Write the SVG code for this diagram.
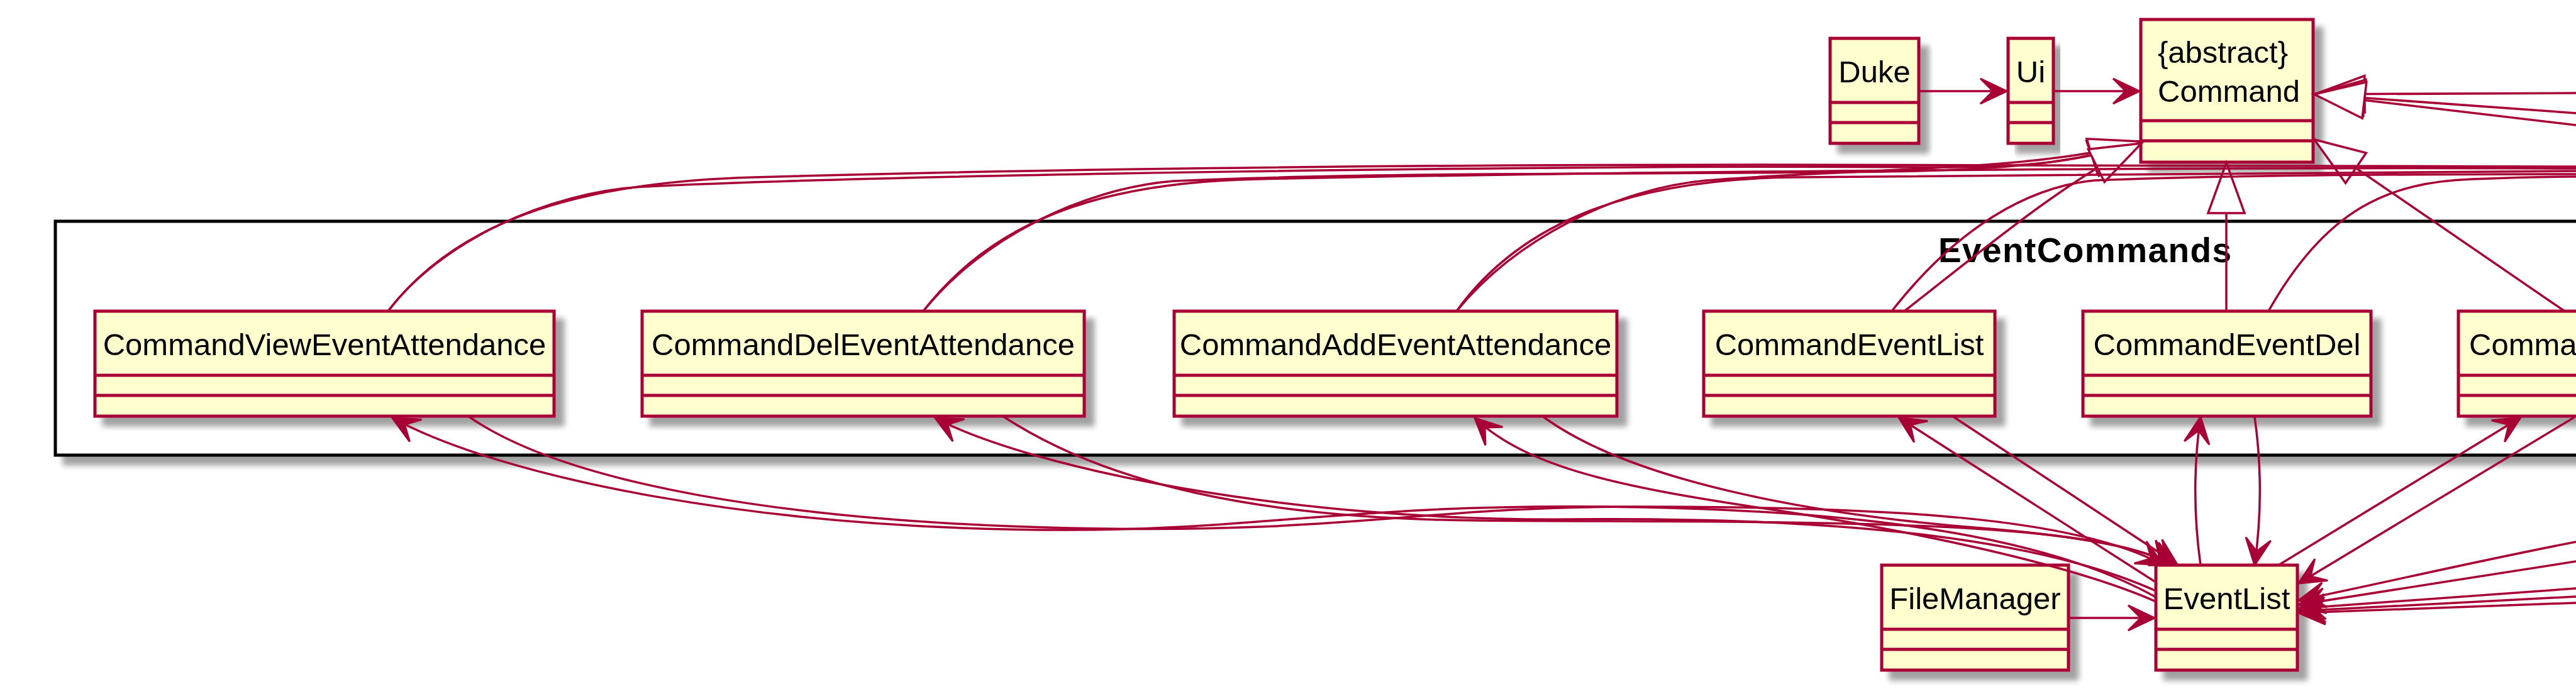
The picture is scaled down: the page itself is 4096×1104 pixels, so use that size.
<svg xmlns="http://www.w3.org/2000/svg" width="4096" height="1104" viewBox="0 0 4096 1104">
<defs>
<filter id="shadow" x="-5%" y="-5%" width="120%" height="135%">
<feGaussianBlur in="SourceAlpha" stdDeviation="5"/>
<feOffset dx="14" dy="14"/>
<feComponentTransfer><feFuncA type="linear" slope="0.37"/></feComponentTransfer>
<feMerge><feMergeNode/><feMergeNode in="SourceGraphic"/></feMerge>
</filter>
<marker id="ah" markerUnits="userSpaceOnUse" markerWidth="60" markerHeight="60" viewBox="-50 -30 60 60" refX="0" refY="0" orient="auto" overflow="visible">
<path d="M0,0 L-42,-20 L-22,0 L-42,20 Z" fill="#A80036" stroke="#A80036" stroke-width="3" stroke-linejoin="miter"/>
</marker>
<marker id="tri" markerUnits="userSpaceOnUse" markerWidth="100" markerHeight="80" viewBox="-90 -40 100 80" refX="0" refY="0" orient="auto" overflow="visible">
<path d="M0,0 L-80,-29 L-80,29 Z" fill="#FFFFFF" stroke="#A80036" stroke-width="3.5" stroke-linejoin="miter"/>
</marker>
</defs>
<style>
.box{fill:#FEFECE;stroke:#A80036;stroke-width:5;filter:url(#shadow)}
.sep{stroke:#A80036;stroke-width:5}
.name{font-family:"Liberation Sans",Arial,sans-serif;font-size:49px;fill:#000000}
.frame{fill:#FFFFFF;stroke:#000000;stroke-width:5;filter:url(#shadow)}
.title{font-family:"Liberation Sans",Arial,sans-serif;font-size:55px;font-weight:bold;fill:#000000}
.link{fill:none;stroke:#A80036;stroke-width:3.5}
.arr{marker-end:url(#ah)}
.inh{marker-end:url(#tri)}
</style>
<rect x="0" y="0" width="4096" height="1104" fill="#FFFFFF"/>

<g id="pkg-EventCommands">
<rect class="frame" x="88" y="352" width="7000" height="372"/>
<text class="title" x="3082" y="417" textLength="466">EventCommands</text>
</g>

<g id="Duke">
<rect class="box" x="2910" y="61" width="141" height="167"/>
<line class="sep" x1="2910" y1="163" x2="3051" y2="163"/>
<line class="sep" x1="2910" y1="195" x2="3051" y2="195"/>
<text class="name" x="2980.5" y="131" text-anchor="middle">Duke</text>
</g>

<g id="Ui">
<rect class="box" x="3193" y="61" width="72" height="167"/>
<line class="sep" x1="3193" y1="163" x2="3265" y2="163"/>
<line class="sep" x1="3193" y1="195" x2="3265" y2="195"/>
<text class="name" x="3229" y="131" text-anchor="middle">Ui</text>
</g>

<g id="Command">
<rect class="box" x="3404" y="31" width="274" height="227"/>
<line class="sep" x1="3404" y1="192" x2="3678" y2="192"/>
<line class="sep" x1="3404" y1="224" x2="3678" y2="224"/>
<text class="name" x="3431" y="100">{abstract}</text>
<text class="name" x="3431" y="162">Command</text>
</g>

<g id="CommandViewEventAttendance">
<rect class="box" x="151" y="495" width="730" height="167"/>
<line class="sep" x1="151" y1="597" x2="881" y2="597"/>
<line class="sep" x1="151" y1="629" x2="881" y2="629"/>
<text class="name" x="516" y="565" text-anchor="middle">CommandViewEventAttendance</text>
</g>

<g id="CommandDelEventAttendance">
<rect class="box" x="1021" y="495" width="703" height="167"/>
<line class="sep" x1="1021" y1="597" x2="1724" y2="597"/>
<line class="sep" x1="1021" y1="629" x2="1724" y2="629"/>
<text class="name" x="1372.5" y="565" text-anchor="middle">CommandDelEventAttendance</text>
</g>

<g id="CommandAddEventAttendance">
<rect class="box" x="1867" y="495" width="704" height="167"/>
<line class="sep" x1="1867" y1="597" x2="2571" y2="597"/>
<line class="sep" x1="1867" y1="629" x2="2571" y2="629"/>
<text class="name" x="2219" y="565" text-anchor="middle">CommandAddEventAttendance</text>
</g>

<g id="CommandEventList">
<rect class="box" x="2709" y="495" width="463" height="167"/>
<line class="sep" x1="2709" y1="597" x2="3172" y2="597"/>
<line class="sep" x1="2709" y1="629" x2="3172" y2="629"/>
<text class="name" x="2940.5" y="565" text-anchor="middle">CommandEventList</text>
</g>

<g id="CommandEventDel">
<rect class="box" x="3312" y="495" width="458" height="167"/>
<line class="sep" x1="3312" y1="597" x2="3770" y2="597"/>
<line class="sep" x1="3312" y1="629" x2="3770" y2="629"/>
<text class="name" x="3541" y="565" text-anchor="middle">CommandEventDel</text>
</g>

<g id="CommandCut">
<rect class="box" x="3909" y="495" width="600" height="167"/>
<line class="sep" x1="3909" y1="597" x2="4509" y2="597"/>
<line class="sep" x1="3909" y1="629" x2="4509" y2="629"/>
<text class="name" x="3926" y="565">Comma</text>
</g>

<g id="FileManager">
<rect class="box" x="2992" y="899" width="297" height="167"/>
<line class="sep" x1="2992" y1="1001" x2="3289" y2="1001"/>
<line class="sep" x1="2992" y1="1033" x2="3289" y2="1033"/>
<text class="name" x="3140.5" y="969" text-anchor="middle">FileManager</text>
</g>

<g id="EventList">
<rect class="box" x="3428" y="899" width="225" height="167"/>
<line class="sep" x1="3428" y1="1001" x2="3653" y2="1001"/>
<line class="sep" x1="3428" y1="1033" x2="3653" y2="1033"/>
<text class="name" x="3540.5" y="969" text-anchor="middle">EventList</text>
</g>

<g id="connectors">
<path class="link arr" d="M3051,145 L3191,145"/>
<path class="link arr" d="M3265,145 L3402,145"/>
<path class="link arr" d="M3289,983 L3426,983"/>

<path class="link inh" d="M4096,148 L3680,150"/>
<path class="link inh" d="M4096,180 L3680,150"/>
<path class="link inh" d="M4096,199 L3680,150"/>
<path class="link inh" d="M4078,495 L3680,222"/>
<path class="link inh" d="M3540,495 L3540,259"/>
<path class="link inh" d="M617,495 C700,385 870,305 1024,297 C1400,278 2500,262 3050,266 C3200,267 3300,262 3403,225"/>
<path class="link inh" d="M1468,495 C1560,380 1720,300 1866,288 C2200,272 2800,278 3050,272 C3200,268 3310,258 3403,225"/>
<path class="link inh" d="M2316,495 C2410,380 2570,300 2713,287 C2950,268 3250,272 3403,225"/>
<path class="link inh" d="M3028,495 C3150,400 3280,290 3405,228"/>

<path class="link" d="M617,495 C720,360 900,290 1200,282 C1600,270 2200,262 2800,262 C3300,262 3700,265 4096,265"/>
<path class="link" d="M1468,495 C1580,350 1750,290 2000,285 C2600,272 3500,266 4096,268"/>
<path class="link" d="M2316,495 C2420,350 2600,285 2850,282 C3300,278 3700,272 4096,272"/>
<path class="link" d="M3008,495 C3090,390 3200,300 3330,287 C3500,280 3800,277 4096,277"/>
<path class="link" d="M3607,495 C3700,330 3800,290 3930,285 C4000,282 4050,281 4096,281"/>

<path class="link arr" d="M3428,950 C3250,850 2950,810 2550,806 C2150,802 2000,843 1700,843 C1200,843 800,760 624,665"/>
<path class="link arr" d="M746,663 C900,770 1250,830 1700,840 C2150,850 2250,806 2600,806 C3000,806 3300,822 3440,899"/>
<path class="link arr" d="M3428,940 C3250,860 2950,822 2500,826 C2050,830 1640,745 1487,665"/>
<path class="link arr" d="M1596,663 C1760,770 2000,825 2350,828 C2800,832 3330,820 3452,899"/>
<path class="link arr" d="M3428,957 C3300,900 3050,845 2800,808 C2580,775 2430,745 2345,665"/>
<path class="link arr" d="M2454,663 C2600,770 2900,820 3150,840 C3300,852 3400,870 3462,899"/>
<path class="link arr" d="M3426,925 L3019,664"/>
<path class="link arr" d="M3106,663 L3462,898"/>
<path class="link arr" d="M3499,899 C3488,820 3488,740 3499,663"/>
<path class="link arr" d="M3585,663 C3596,740 3596,820 3585,899"/>
<path class="link arr" d="M3623,899 L4008,664"/>
<path class="link arr" d="M4093,664 L3655,928"/>
<path class="link arr" d="M4096,862 C3950,890 3800,925 3655,955"/>
<path class="link arr" d="M4096,893 C3950,915 3800,940 3655,962"/>
<path class="link arr" d="M4096,936 L3655,968"/>
<path class="link arr" d="M4096,949 L3655,972"/>
<path class="link arr" d="M4096,959 L3655,975"/>
</g>
</svg>
